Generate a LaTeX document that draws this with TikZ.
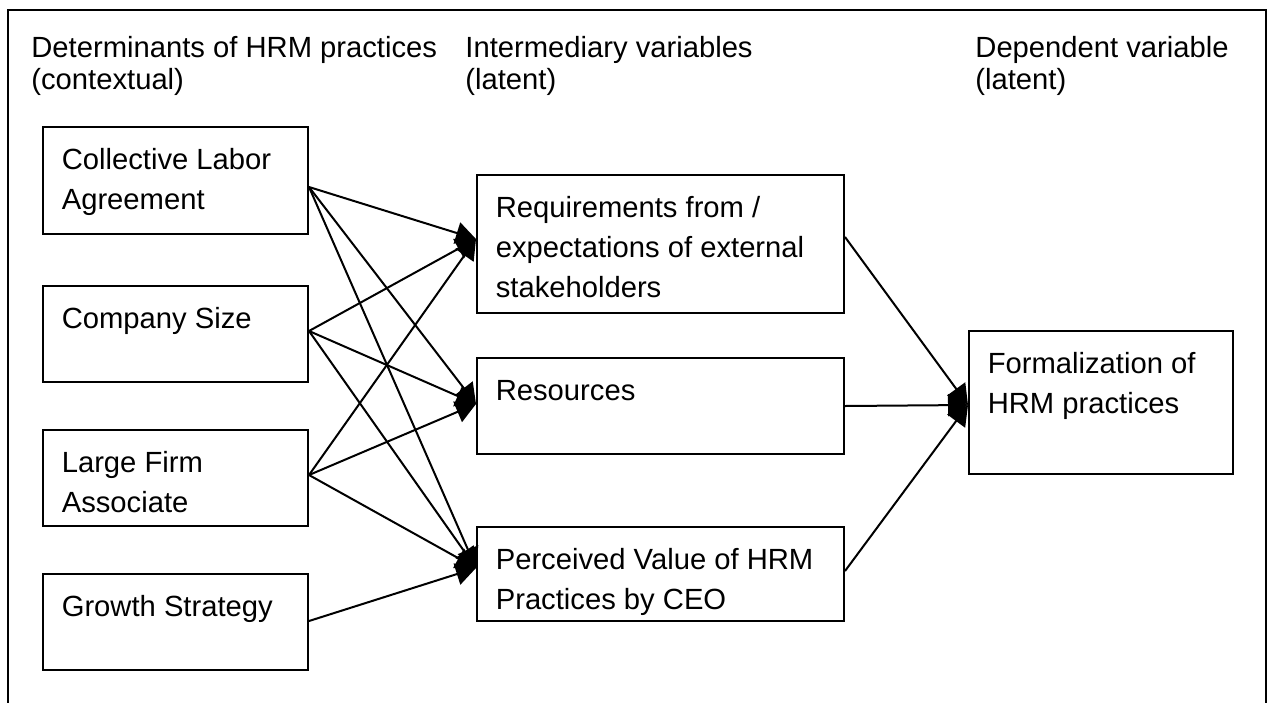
\documentclass[tikz,border=0pt]{standalone}
\usepackage{fontspec}
\setmainfont{Liberation Sans}
\usetikzlibrary{arrows.meta,calc}
\begin{document}
\begin{tikzpicture}[x=0.5pt,y=-0.5pt,
  box/.style={draw,line width=1pt,rectangle,inner sep=0pt,anchor=north west,minimum width=132.5pt},
  lbl/.style={anchor=north west,inner sep=0pt,align=left,xshift=9.7pt,yshift=-7.5pt,font=\fontsize{14.6pt}{20pt}\selectfont},
  hdr/.style={anchor=north west,inner sep=0pt,align=left,font=\fontsize{14.6pt}{16pt}\selectfont},
  conn/.style={line width=1pt,-{Triangle[length=10pt,width=11pt]}},
  frame/.style={line width=1.4pt}
]
\useasboundingbox (0,0) rectangle (1272,702);
% open frame
\coordinate (fbl) at (8,703);
\coordinate (ftl) at (8,10);
\coordinate (ftr) at (1266,10);
\coordinate (fbr) at (1266,703);
\draw[frame] (fbl) -- (ftl) -- (ftr) -- (fbr);

% headers
\node[hdr] (h1) at (31,34.6) {\strut Determinants of HRM practices\\(contextual)};
\node[hdr] (h2) at (465,34.6) {\strut Intermediary variables\\(latent)};
\node[hdr] (h3) at (975,34.6) {\strut Dependent variable\\(latent)};

% left boxes
\node[box,minimum height=53.5pt,label={[lbl]north west:{\strut Collective Labor\\Agreement}}] (b1) at (42,126) {};
\node[box,minimum height=48pt,label={[lbl]north west:{\strut Company Size}}] (b2) at (42,285) {};
\node[box,minimum height=48pt,label={[lbl]north west:{\strut Large Firm\\Associate}}] (b3) at (42,429) {};
\node[box,minimum height=48pt,label={[lbl]north west:{\strut Growth Strategy}}] (b4) at (42,573) {};

% middle boxes
\node[box,minimum width=183.5pt,minimum height=69pt,label={[lbl]north west:{\strut Requirements from /\\expectations of external\\stakeholders}}] (mA) at (476,174) {};
\node[box,minimum width=183.5pt,minimum height=48pt,label={[lbl]north west:{\strut Resources}}] (mB) at (476,357) {};
\node[box,minimum width=183.5pt,minimum height=47pt,label={[lbl]north west:{\strut Perceived Value of HRM\\Practices by CEO}}] (mC) at (476,526) {};

% right box
\node[box,minimum width=132pt,minimum height=71.5pt,label={[lbl]north west:{\strut Formalization of\\HRM practices}}] (F) at (968,330) {};

% ports
\coordinate (o1) at ($(b1.east)+(0,6.5)$);
\coordinate (o2) at ($(b2.east)+(0,-3)$);
\coordinate (o3) at ($(b3.east)+(0,-3)$);
\coordinate (o4) at ($(b4.east)+(0,-1)$);
\coordinate (iA) at ($(mA.west)+(0,-5)$);
\coordinate (iB) at ($(mB.west)+(0,-2)$);
\coordinate (iC) at ($(mC.west)+(0,-6)$);
\coordinate (oA) at ($(mA.east)+(0,-7)$);
\coordinate (oB) at ($(mB.east)+(0,0)$);
\coordinate (oC) at ($(mC.east)+(0,-3)$);
\coordinate (iF) at ($(F.west)+(0,2.5)$);

\foreach \s in {o1,o2,o3}{
  \foreach \t in {iA,iB,iC}{
    \draw[conn] (\s) -- (\t);
  }
}
\draw[conn] (o4) -- (iC);
\draw[conn] (oA) -- (iF);
\draw[conn] (oB) -- (iF);
\draw[conn] (oC) -- (iF);
\end{tikzpicture}
\end{document}
